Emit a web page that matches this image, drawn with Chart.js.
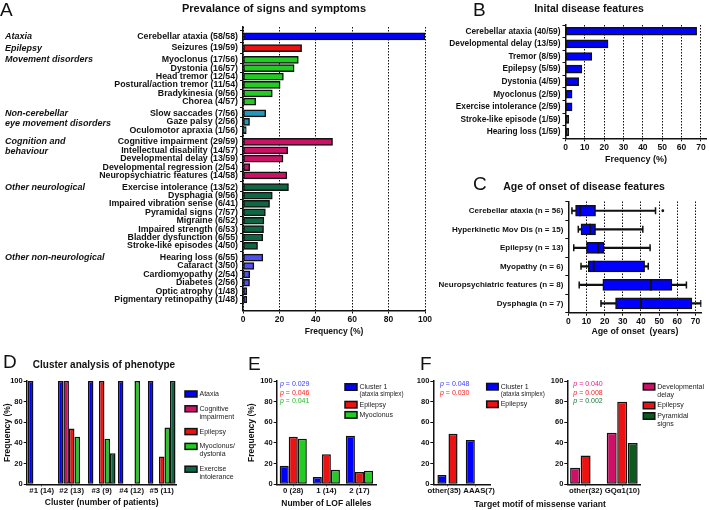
<!DOCTYPE html>
<html>
<head>
<meta charset="utf-8">
<title>Signs and symptoms</title>
<script src="https://cdn.jsdelivr.net/npm/chart.js@4.4.1/dist/chart.umd.min.js"></script>
<style>
  body { margin: 0; background: #fff; }
  #fig { position: relative; width: 709px; height: 510px; overflow: hidden; background: #fff;
         font-family: "Liberation Sans", Arial, sans-serif; color: #111; }
  #fig canvas { position: absolute; }
  .txt { position: absolute; white-space: nowrap; transform: translate(-50%, -50%); font-weight: bold; line-height: 1; }
  .letter { position: absolute; font-size: 19px; line-height: 1; }
  .pval { position: absolute; font-size: 7px; white-space: nowrap; transform: translateY(-50%); line-height: 1; }
</style>
</head>
<body>
<div id="fig">
  <canvas id="chartA" width="440" height="340" style="left:0;top:0"></canvas>
  <canvas id="chartB" width="269" height="170" style="left:440px;top:0"></canvas>
  <canvas id="chartC" width="289" height="170" style="left:420px;top:170px"></canvas>
  <canvas id="chartD" width="240" height="170" style="left:0;top:340px"></canvas>
  <canvas id="chartE" width="170" height="170" style="left:240px;top:340px"></canvas>
  <canvas id="chartF1" width="150" height="170" style="left:410px;top:340px"></canvas>
  <canvas id="chartF2" width="164" height="170" style="left:545px;top:340px"></canvas>

  <div class="letter" style="left:0;top:0">A</div>
  <div class="letter" style="left:473px;top:0">B</div>
  <div class="letter" style="left:473px;top:174px">C</div>
  <div class="letter" style="left:3px;top:352px">D</div>
  <div class="letter" style="left:248px;top:354px">E</div>
  <div class="letter" style="left:420px;top:354px">F</div>

  <div class="txt" style="left:274px;top:8px;font-size:11px">Prevalance of signs and symptoms</div>
  <div class="txt" style="left:589px;top:8px;font-size:10.5px">Inital disease features</div>
  <div class="txt" style="left:584px;top:186px;font-size:10.5px">Age of onset of disease features</div>
  <div class="txt" style="left:104px;top:365px;font-size:10px">Cluster analysis of phenotype</div>
  <div class="txt" style="left:540px;top:504px;font-size:8.6px">Target motif of missense variant</div>
</div>
<script>
// ---- A: prevalence of signs and symptoms
const symptomLabels = [
    'Cerebellar ataxia (58/58)', 'Seizures (19/59)',
    'Myoclonus (17/56)', 'Dystonia (16/57)', 'Head tremor (12/54)', 'Postural/action tremor (11/54)', 'Bradykinesia (9/56)', 'Chorea (4/57)',
    'Slow saccades (7/56)', 'Gaze palsy (2/56)', 'Oculomotor apraxia (1/56)',
    'Cognitive impairment (29/59)', 'Intellectual disability (14/57)', 'Developmental delay (13/59)', 'Developmental regression (2/54)', 'Neuropsychiatric features (14/58)',
    'Exercise intolerance (13/52)', 'Dysphagia (9/56)', 'Impaired vibration sense (6/41)', 'Pyramidal signs (7/57)', 'Migraine (6/52)', 'Impaired strength (6/53)', 'Bladder dysfunction (6/55)', 'Stroke-like episodes (4/50)',
    'Hearing loss (6/55)', 'Cataract (3/50)', 'Cardiomyopathy (2/54)', 'Diabetes (2/56)', 'Optic atrophy (1/48)', 'Pigmentary retinopathy (1/48)'
]
const symptomPct = [100, 32.2, 30.4, 28.1, 22.2, 20.4, 16.1, 7.0, 12.5, 3.6, 1.8, 49.2, 24.6, 22.0, 3.7, 24.1,
    25.0, 16.1, 14.6, 12.3, 11.5, 11.3, 10.9, 8.0, 10.9, 6.0, 3.7, 3.6, 2.1, 2.1]
const symptomGroup = [0, 1, 2, 2, 2, 2, 2, 2, 3, 3, 3, 4, 4, 4, 4, 4, 5, 5, 5, 5, 5, 5, 5, 5, 6, 6, 6, 6, 6, 6]
const groupNames = ['Ataxia', 'Epilepsy', 'Movement disorders', 'Non-cerebellar\neye movement disorders',
    'Cognition and\nbehaviour', 'Other neurological', 'Other non-neurological']

// ---- B: initial disease features
const initialLabels = ['Cerebellar ataxia (40/59)', 'Developmental delay (13/59)', 'Tremor (8/59)', 'Epilepsy (5/59)',
    'Dystonia (4/59)', 'Myoclonus (2/59)', 'Exercise intolerance (2/59)', 'Stroke-like episode (1/59)', 'Hearing loss (1/59)']
const initialPct = [67.8, 22.0, 13.6, 8.5, 6.8, 3.4, 3.4, 1.7, 1.7]

// ---- C: age of onset (box plots)
const onsetLabels = ['Cerebellar ataxia (n = 56)', 'Hyperkinetic Mov Dis (n = 15)', 'Epilepsy (n = 13)',
    'Myopathy (n = 6)', 'Neuropsychiatric features (n = 8)', 'Dysphagia (n = 7)']
const onsetMin = [2, 5.5, 3, 7, 6, 18]
const onsetQ1 = [4, 7, 10, 11, 19, 26]
const onsetMedian = [6.5, 12, 16.5, 14, 45.5, 40]
const onsetQ3 = [15, 15, 19.6, 42, 57, 68]
const onsetMax = [48, 41, 45, 44, 65, 73]
const onsetOutliers = [52, null, null, null, null, null]

// ---- D: cluster analysis
const clusterLabels = ['#1 (14)', '#2 (13)', '#3 (9)', '#4 (12)', '#5 (11)']
const clusterAtaxia = [100, 100, 100, 100, 100]
const clusterCognitive = [0, 100, 0, 0, 0]
const clusterEpilepsy = [0, 54, 100, 0, 27]
const clusterMyoclonus = [0, 46, 44, 100, 55]
const clusterExercise = [0, 0, 30, 0, 100]

// ---- E: LOF alleles
const lofLabels = ['0 (28)', '1 (14)', '2 (17)']
const lofCluster1 = [18, 7, 47]
const lofEpilepsy = [46, 29, 12]
const lofMyoclonus = [44, 14, 13]
const lofPValues = ['0.029', '0.046', '0.041']

// ---- F: target motif of missense variant
const motifLabelsA = ['other(35)', 'AAAS(7)']
const motifCluster1 = [9, 43]
const motifEpilepsyA = [49, 0]
const motifPValuesA = ['0.048', '0.030']
const motifLabelsB = ['other(32)', 'GQα1(10)']
const motifDevDelay = [16, 50]
const motifEpilepsyB = [28, 80]
const motifPyramidal = [0, 40]
const motifPValuesB = ['0.040', '0.008', '0.002']

const BLUE = '#0000ff', RED = '#ee1111', GREEN = '#22cc22', MAGENTA = '#cc1166',
    DKGREEN = '#0e6642', TEAL = '#2299bb', VIOLET = '#5050ee', PYRAMIDAL = '#0b5a1e', INK = '#111'
const groupColours = [BLUE, RED, GREEN, TEAL, MAGENTA, DKGREEN, VIOLET]
const FONT = '"Liberation Sans", Arial, sans-serif'

Chart.defaults.font.family = FONT
Chart.defaults.font.weight = 'bold'
Chart.defaults.color = INK
Chart.defaults.animation = false
Chart.defaults.responsive = false
Chart.defaults.plugins.legend.display = false
Chart.defaults.plugins.tooltip.enabled = false

const fixWidth = w => scale => { scale.width = w }
const fixHeight = h => scale => { scale.height = h }

// p-values as html text
function addPValues(left, top, values, colours) {
    const fig = document.getElementById('fig')
    values.forEach((v, i) => {
        const d = document.createElement('div')
        d.className = 'pval'
        d.style.left = left + 'px'
        d.style.top = (top + i * 8.5) + 'px'
        d.style.color = colours[i]
        d.innerHTML = '<i>p</i> = ' + v
        fig.appendChild(d)
    })
}

// legend with boxes, multi-line labels
const boxLegend = {
    id: 'boxLegend',
    afterDraw(chart, args, o) {
        if (o.x === undefined) return
        const ctx = chart.ctx
        let y = o.y
        chart.data.datasets.forEach(ds => {
            const lines = ds.label.split('\n')
            ctx.save()
            ctx.fillStyle = ds.backgroundColor
            ctx.fillRect(o.x, y - o.boxH / 2, o.boxW, o.boxH)
            ctx.strokeStyle = INK
            ctx.lineWidth = 1.5
            ctx.strokeRect(o.x, y - o.boxH / 2, o.boxW, o.boxH)
            ctx.fillStyle = '#222'
            ctx.textBaseline = 'middle'
            lines.forEach((ln, k) => {
                ctx.font = ln.startsWith('(') ? o.subFont : o.font
                ctx.fillText(ln, o.x + o.boxW + o.textGap, y + k * o.lineH)
            })
            ctx.restore()
            y += lines.length * o.lineH + o.gap
        })
    }
}

// italic group headings of panel A
const groupHeadings = {
    id: 'groupHeadings',
    afterDraw(chart) {
        const ctx = chart.ctx
        const ys = chart.scales.y
        ctx.save()
        ctx.font = 'italic bold 9px ' + FONT
        ctx.fillStyle = INK
        ctx.textBaseline = 'middle'
        groupNames.forEach((name, g) => {
            const first = symptomGroup.indexOf(g)
            const py = ys.getPixelForValue(rowPos[first])
            name.split('\n').forEach((ln, k) => ctx.fillText(ln, 5, py + k * 10))
        })
        ctx.restore()
    }
}

// ---- chart A
const rowGap = 0.4
const rowPos = symptomGroup.map((g, i) => i + g * rowGap)
new Chart(document.getElementById('chartA'), {
    type: 'bar',
    data: {
        datasets: [{
            data: symptomPct.map((v, i) => ({ x: v, y: rowPos[i] })),
            backgroundColor: symptomGroup.map(g => groupColours[g]),
            borderColor: INK, borderWidth: 1.5, borderSkipped: false,
            barThickness: 7
        }]
    },
    options: {
        indexAxis: 'y',
        devicePixelRatio: 1,
        layout: { padding: { top: 27, right: 15, left: 0, bottom: 0 } },
        scales: {
            x: {
                type: 'linear', min: 0, max: 100,
                ticks: { stepSize: 20, font: { size: 8.5 }, padding: 1 },
                grid: { color: INK, tickLength: 3 },
                border: { color: INK, width: 1.5, dash: [1.5, 1.5] },
                title: { display: true, text: 'Frequency (%)', font: { size: 8.5 }, padding: { top: 0, bottom: 3 } },
                afterFit: fixHeight(29.5)
            },
            y: {
                type: 'linear', reverse: true, min: -0.55, max: rowPos[rowPos.length - 1] + 0.75,
                afterBuildTicks: s => { s.ticks = rowPos.map(v => ({ value: v })) },
                ticks: { autoSkip: false, callback: (v, i) => symptomLabels[i], font: { size: 8.8 }, padding: 2 },
                grid: { drawOnChartArea: false, tickLength: 3, color: INK },
                border: { color: INK, width: 1.5 },
                afterFit: fixWidth(243)
            }
        }
    },
    plugins: [groupHeadings]
})

// ---- chart B
new Chart(document.getElementById('chartB'), {
    type: 'bar',
    data: {
        labels: initialLabels,
        datasets: [{
            data: initialPct, backgroundColor: BLUE, borderColor: INK,
            borderWidth: 1.5, borderSkipped: false, barThickness: 8
        }]
    },
    options: {
        indexAxis: 'y',
        devicePixelRatio: 1,
        layout: { padding: { top: 25, right: 2.3, left: 0, bottom: 0 } },
        scales: {
            x: {
                type: 'linear', min: 0, max: 73,
                ticks: { stepSize: 10, includeBounds: false, font: { size: 8.5 }, padding: 1 },
                grid: { color: INK, tickLength: 3 },
                border: { color: INK, width: 1.5, dash: [1.5, 1.5] },
                title: { display: true, text: 'Frequency (%)', font: { size: 9 }, padding: { top: 0, bottom: 5.5 } },
                afterFit: fixHeight(31.7)
            },
            y: {
                ticks: { autoSkip: false, font: { size: 8.3 }, padding: 2 },
                grid: { drawOnChartArea: false, tickLength: 3, color: INK },
                border: { color: INK, width: 1.5 },
                afterFit: fixWidth(125.5)
            }
        }
    }
})

// ---- chart C (box plots)
const whiskerPoint = (data, radius) => ({
    type: 'line', data: data, showLine: false, pointStyle: 'line', pointRotation: 90,
    pointRadius: radius, pointBorderWidth: 1.5, pointBorderColor: INK
})
new Chart(document.getElementById('chartC'), {
    type: 'bar',
    data: {
        labels: onsetLabels,
        datasets: [
            Object.assign(whiskerPoint(onsetMedian, 5.5), { pointBorderWidth: 2 }),
            {
                data: onsetQ1.map((q, i) => [q, onsetQ3[i]]), backgroundColor: BLUE, borderColor: INK,
                borderWidth: 1.5, borderSkipped: false, barThickness: 11, grouped: false
            },
            whiskerPoint(onsetMin, 3.5),
            whiskerPoint(onsetMax, 3.5),
            {
                data: onsetMin.map((m, i) => [m, onsetMax[i]]), backgroundColor: INK,
                borderWidth: 0, barThickness: 1.5, grouped: false
            },
            {
                type: 'line', data: onsetOutliers, showLine: false, pointStyle: 'circle',
                pointRadius: 1.4, pointBackgroundColor: INK, pointBorderWidth: 0
            }
        ]
    },
    options: {
        indexAxis: 'y',
        devicePixelRatio: 1,
        layout: { padding: { top: 31.5, right: 7, left: 0, bottom: 0 } },
        scales: {
            x: {
                type: 'linear', min: 0, max: 73.3,
                ticks: { stepSize: 10, includeBounds: false, font: { size: 8.5 }, padding: 1 },
                grid: { color: INK, tickLength: 3 },
                border: { color: INK, width: 1.5, dash: [1.5, 1.5] },
                title: { display: true, text: 'Age of onset  (years)', font: { size: 8.8 }, padding: { top: 0, bottom: 3.5 } },
                afterFit: fixHeight(27.3)
            },
            y: {
                ticks: { autoSkip: false, font: { size: 8 }, padding: 2 },
                grid: { drawOnChartArea: false, tickLength: 3, color: INK },
                border: { color: INK, width: 1.5 },
                afterFit: fixWidth(148.3)
            }
        }
    }
})

// ---- percentage bar charts D, E, F
const barSet = (label, data, colour) => ({
    label: label, data: data, backgroundColor: colour, borderColor: INK,
    borderWidth: 1.5, borderSkipped: false
})
function pctChart(id, labels, datasets, cfg) {
    const tickText = cfg.tickText || function (v) { return this.getLabelForValue(v) }
    return new Chart(document.getElementById(id), {
        type: 'bar',
        data: { labels: labels, datasets: datasets },
        options: {
            devicePixelRatio: 1,
            categoryPercentage: cfg.catPct, barPercentage: cfg.barPct,
            layout: { padding: { top: 41, right: cfg.right, left: 0, bottom: 0 } },
            scales: {
                x: {
                    ticks: { font: { size: 7.8 }, padding: 0, maxRotation: 0, autoSkip: false, callback: tickText },
                    grid: { drawOnChartArea: false, tickLength: 2, color: INK, offset: false },
                    border: { color: INK, width: 1.5 },
                    title: { display: !!cfg.xTitle, text: cfg.xTitle || '', font: { size: 8.5 }, padding: { top: 0, bottom: cfg.xTitlePad || 1 } },
                    afterFit: fixHeight(25.7)
                },
                y: {
                    min: 0, max: 100,
                    ticks: { stepSize: 10, font: { size: 7.5 }, padding: 1 },
                    grid: { drawOnChartArea: false, tickLength: 3, color: INK },
                    border: { color: INK, width: 1.5 },
                    title: { display: !!cfg.yTitle, text: cfg.yTitle || '', font: { size: 8.5 }, padding: { top: cfg.yTitlePad || 0, bottom: 0 } },
                    afterFit: fixWidth(cfg.yWidth)
                }
            },
            plugins: { boxLegend: cfg.legend }
        },
        plugins: [boxLegend]
    })
}

const legendFont = '7px ' + FONT
pctChart('chartD', clusterLabels, [
    barSet('Ataxia', clusterAtaxia, BLUE),
    barSet('Cognitive\nimpairment', clusterCognitive, MAGENTA),
    barSet('Epilepsy', clusterEpilepsy, RED),
    barSet('Myoclonus/\ndystonia', clusterMyoclonus, GREEN),
    barSet('Exercise\nintolerance', clusterExercise, DKGREEN)
], {
    catPct: 0.92, barPct: 1, right: 63.3, yWidth: 26.7,
    xTitle: 'Cluster (number of patients)', xTitlePad: 2, yTitle: 'Frequency (%)', yTitlePad: 3,
    legend: { x: 185, y: 54, boxW: 12, boxH: 6, lineH: 8, gap: 6.8, textGap: 2.5, font: legendFont, subFont: legendFont }
})

pctChart('chartE', lofLabels, [
    barSet('Cluster 1\n(ataxia simplex)', lofCluster1, BLUE),
    barSet('Epilepsy', lofEpilepsy, RED),
    barSet('Myoclonus', lofMyoclonus, GREEN)
], {
    catPct: 0.82, barPct: 1, right: 34, yWidth: 36.7,
    xTitle: 'Number of LOF alleles', xTitlePad: 1, yTitle: 'Frequency (%)', yTitlePad: 7,
    legend: { x: 105, y: 47, boxW: 12, boxH: 6.5, lineH: 7.5, gap: 2.7, textGap: 2.5, font: legendFont, subFont: '6.3px ' + FONT }
})

// the two labels of this small panel sit a little apart from their bar groups
pctChart('chartF1', motifLabelsA, [
    barSet('Cluster 1\n(ataxia simplex)', motifCluster1, BLUE),
    barSet('Epilepsy', motifEpilepsyA, RED)
], {
    catPct: 0.78, barPct: 0.82, right: 70, yWidth: 23.3,
    tickText: (v, i) => i === 0 ? motifLabelsA[i] + '   ' : '   ' + motifLabelsA[i],
    legend: { x: 76.7, y: 46.7, boxW: 11.5, boxH: 6.5, lineH: 7.6, gap: 2.4, textGap: 2.5, font: legendFont, subFont: '6.3px ' + FONT }
})

pctChart('chartF2', motifLabelsB, [
    barSet('Developmental\ndelay', motifDevDelay, MAGENTA),
    barSet('Epilepsy', motifEpilepsyB, RED),
    barSet('Pyramidal\nsigns', motifPyramidal, PYRAMIDAL)
], {
    catPct: 0.86, barPct: 0.95, right: 68.5, yWidth: 22.3,
    legend: { x: 98.3, y: 46.7, boxW: 11.5, boxH: 6.5, lineH: 8.3, gap: 2.2, textGap: 2.5, font: legendFont, subFont: legendFont }
})

addPValues(280, 383.3, lofPValues, ['#3c3cff', '#ff2020', '#22bb22'])
addPValues(440, 383.3, motifPValuesA, ['#3c3cff', '#ff2020'])
addPValues(573.3, 383.3, motifPValuesB, ['#e0208a', '#ff2020', '#1a7a3a'])
</script>
</body>
</html>
